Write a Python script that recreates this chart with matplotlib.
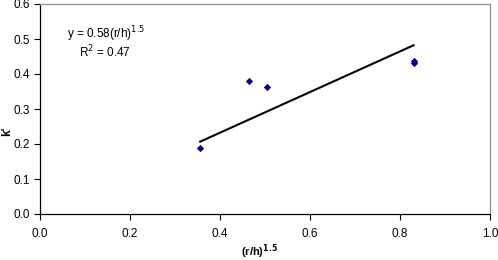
import numpy as np
import matplotlib
matplotlib.use("Agg")
import matplotlib.pyplot as plt

plt.rcParams['font.family'] = ['Liberation Sans', 'DejaVu Sans']

# data
x_vals = [0.356, 0.465, 0.505, 0.830, 0.830]
k_vals = [0.188, 0.379, 0.364, 0.432, 0.436]
x_ticks = [0.0, 0.2, 0.4, 0.6, 0.8, 1.0]
y_ticks = [0.0, 0.1, 0.2, 0.3, 0.4, 0.5, 0.6]

x = np.array(x_vals)
y = np.array(k_vals)
slope = np.sum(x * y) / np.sum(x * x)

fig = plt.figure(figsize=(4.98, 2.6), dpi=100)
ax = fig.add_axes([40/498, 1-214/260, 450/498, 210/260])

xl = np.array([x.min(), x.max()])
ax.plot(xl, slope * xl, color='black', lw=1.5, zorder=2)
ax.scatter(x, y, marker='D', s=14, color='#000080', zorder=3, linewidths=0)

ax.set_xlim(0, 1.0)
ax.set_ylim(0, 0.6)
ax.set_xticks(x_ticks)
ax.set_yticks(y_ticks)
ax.set_xticklabels([f"{v:.1f}" for v in x_ticks])
ax.set_yticklabels([f"{v:.1f}" for v in y_ticks])
ax.tick_params(axis='both', direction='out', length=4, width=0.8, labelsize=8.5, colors='black')
ax.tick_params(axis='x', pad=6)
ax.tick_params(axis='y', pad=3)

for s in ['left', 'bottom']:
    ax.spines[s].set_color('black')
    ax.spines[s].set_linewidth(0.9)
for s in ['right', 'top']:
    ax.spines[s].set_color('#909090')
    ax.spines[s].set_linewidth(0.9)

fig.text(259/498, 1-256/260, r"(r/h)$^{\mathbf{1.5}}$", ha='center', va='baseline',
         fontsize=8, fontweight='bold')
fig.text(7/498, 1-131/260, "k'", ha='center', va='center', fontsize=8.5,
         fontweight='bold', rotation=90)

fig.text(106/498, 1-34/260, "y = 0.58(r/h)$^{1.5}$", ha='center', va='center', fontsize=8.5)
fig.text(105/498, 1-52/260, "R$^{2}$ = 0.47", ha='center', va='center', fontsize=8.5)

fig.savefig("out.png", dpi=100)
